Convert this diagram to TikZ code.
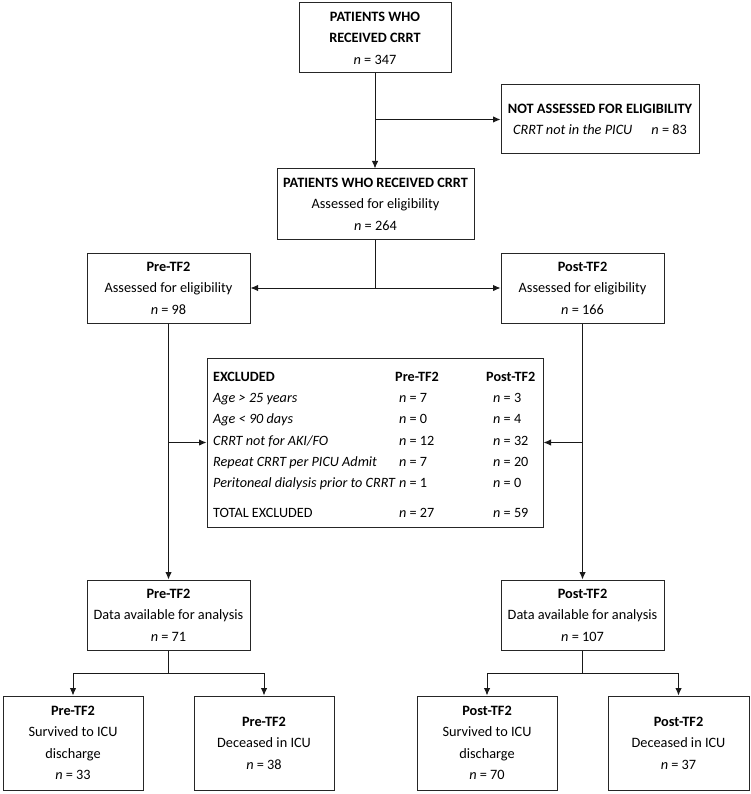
\documentclass[tikz,border=0pt]{standalone}
\usepackage{fontspec}
\setmainfont{Carlito}
\usetikzlibrary{arrows.meta,calc}
\begin{document}
\begin{tikzpicture}[x=1pt,y=-1pt,
  box/.style={draw=black!85, line width=1pt, align=center, inner sep=0pt,
    font=\fontsize{14.3}{21.5}\selectfont},
  cell/.style={anchor=base west, inner sep=0pt, font=\fontsize{14.2}{16}\selectfont},
  conn/.style={draw=black!90, line width=1pt},
  arr/.style={conn, -{Latex[length=7.5pt,width=6.5pt]}}
]
\useasboundingbox (0,0) rectangle (751,794);

% top
\node[box, minimum width=152pt, minimum height=70pt] (b1) at (375,38)
  {\textbf{PATIENTS WHO}\\\textbf{RECEIVED CRRT}\\\textit{n} = 347};
\node[box, minimum width=198pt, minimum height=69pt] (na) at (600,119.5)
  {\textbf{NOT ASSESSED FOR ELIGIBILITY}\\\textit{CRRT not in the PICU}\hspace{19pt}\textit{n} = 83};
\node[box, minimum width=197pt, minimum height=70pt] (b2) at (375.5,204)
  {\textbf{PATIENTS WHO RECEIVED CRRT}\\Assessed for eligibility\\\textit{n} = 264};

% assessed
\node[box, minimum width=163pt, minimum height=70pt] (pre) at (168.5,288)
  {\textbf{Pre-TF2}\\Assessed for eligibility\\\textit{n} = 98};
\node[box, minimum width=163pt, minimum height=70pt] (post) at (582.5,288)
  {\textbf{Post-TF2}\\Assessed for eligibility\\\textit{n} = 166};

% excluded
\node[box, minimum width=336pt, minimum height=169pt] (excl) at (375,442.5) {};
\node[cell] (eh) at (213,381.5) {\textbf{EXCLUDED}};
\node[cell] (eph) at (395,381.5) {\textbf{Pre-TF2}};
\node[cell] (eqh) at (486,381.5) {\textbf{Post-TF2}};
\node[cell] (e1) at (213,402) {\textit{Age > 25 years}};
\node[cell] (e1p) at (399,402) {\textit{n} = 7};
\node[cell] (e1q) at (493,402) {\textit{n} = 3};
\node[cell] (e2) at (213,423.5) {\textit{Age < 90 days}};
\node[cell] (e2p) at (399,423.5) {\textit{n} = 0};
\node[cell] (e2q) at (493,423.5) {\textit{n} = 4};
\node[cell] (e3) at (213,445.5) {\textit{CRRT not for AKI/FO}};
\node[cell] (e3p) at (399,445.5) {\textit{n} = 12};
\node[cell] (e3q) at (493,445.5) {\textit{n} = 32};
\node[cell] (e4) at (213,466.5) {\textit{Repeat CRRT per PICU Admit}};
\node[cell] (e4p) at (399,466.5) {\textit{n} = 7};
\node[cell] (e4q) at (493,466.5) {\textit{n} = 20};
\node[cell] (e5) at (213,487.5) {\textit{Peritoneal dialysis prior to CRRT}};
\node[cell] (e5p) at (399,487.5) {\textit{n} = 1};
\node[cell] (e5q) at (493,487.5) {\textit{n} = 0};
\node[cell] (et) at (213,517.5) {TOTAL EXCLUDED};
\node[cell] (etp) at (399,517.5) {\textit{n} = 27};
\node[cell] (etq) at (493,517.5) {\textit{n} = 59};

% data available
\node[box, minimum width=163pt, minimum height=70pt] (pred) at (168.5,615)
  {\textbf{Pre-TF2}\\Data available for analysis\\\textit{n} = 71};
\node[box, minimum width=163pt, minimum height=70pt] (postd) at (582.5,615)
  {\textbf{Post-TF2}\\Data available for analysis\\\textit{n} = 107};

% outcomes
\node[box, minimum width=140pt, minimum height=94pt] (ps) at (73,743)
  {\textbf{Pre-TF2}\\Survived to ICU\\discharge\\\textit{n} = 33};
\node[box, minimum width=140pt, minimum height=94pt] (pd) at (264,743)
  {\textbf{Pre-TF2}\\Deceased in ICU\\\textit{n} = 38};
\node[box, minimum width=140pt, minimum height=94pt] (qs) at (487,743)
  {\textbf{Post-TF2}\\Survived to ICU\\discharge\\\textit{n} = 70};
\node[box, minimum width=141pt, minimum height=94pt] (qd) at (678.5,743)
  {\textbf{Post-TF2}\\Deceased in ICU\\\textit{n} = 37};

% connectors
\draw[arr] (b1.south) -- (b1.south |- b2.north);
\draw[arr] (b1.south |- na.west) -- (na.west);
\coordinate (j1) at (b2.south |- pre.east);
\draw[conn] (b2.south) -- (j1);
\draw[arr] (j1) -- (pre.east);
\draw[arr] (j1) -- (post.west);
\draw[arr] (pre.south) -- (pred.north);
\draw[arr] (post.south) -- (postd.north);
\draw[arr] (pre.south |- excl.west) -- (excl.west);
\draw[arr] (post.south |- excl.east) -- (excl.east);
\coordinate (j2) at ($(pred.south)+(0,23)$);
\draw[conn] (pred.south) -- (j2);
\draw[arr] (j2) -| (ps.north);
\draw[arr] (j2) -| (pd.north);
\coordinate (j3) at ($(postd.south)+(0,23)$);
\draw[conn] (postd.south) -- (j3);
\draw[arr] (j3) -| (qs.north);
\draw[arr] (j3) -| (qd.north);
\end{tikzpicture}
\end{document}
